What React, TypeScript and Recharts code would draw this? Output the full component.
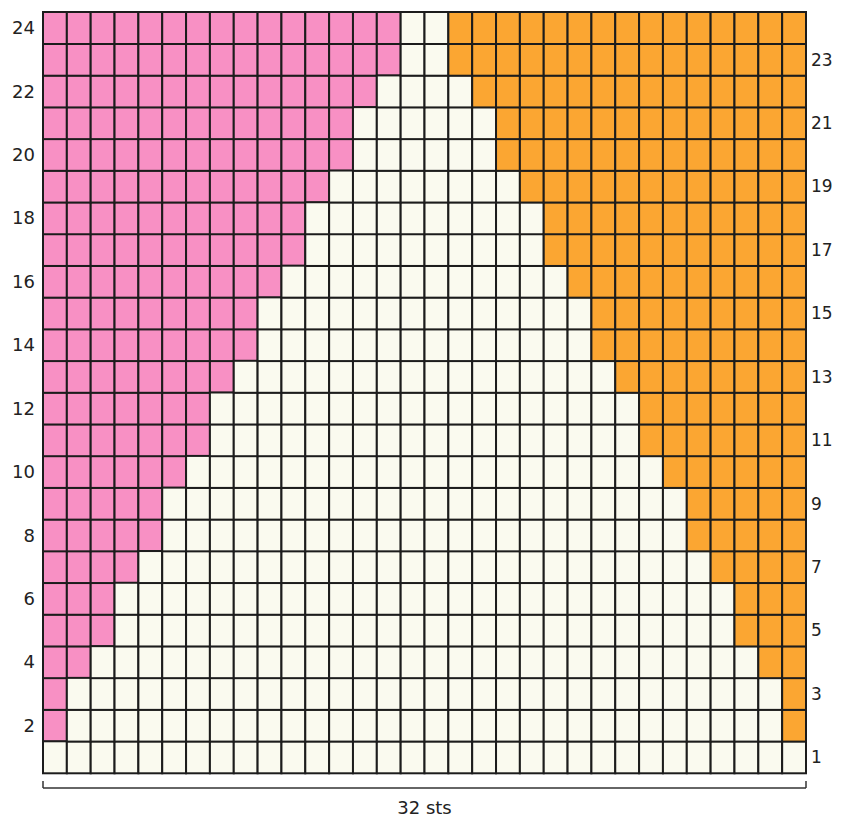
import { BarChart, Bar, XAxis, YAxis, Label } from 'recharts';

// knitting chart: 24 rows x 32 sts, values are stitch counts per row (row 1 = bottom)
const rowNumbers = [1, 2, 3, 4, 5, 6, 7, 8, 9, 10, 11, 12, 13, 14, 15, 16, 17, 18, 19, 20, 21, 22, 23, 24];
const pinkStitches = [0, 1, 1, 2, 3, 3, 4, 5, 5, 6, 7, 7, 8, 9, 9, 10, 11, 11, 12, 13, 13, 14, 15, 15];
const orangeStitches = [0, 1, 1, 2, 3, 3, 4, 5, 5, 6, 7, 7, 8, 9, 9, 10, 11, 11, 12, 13, 13, 14, 15, 15];
const totalStitches = 32;
const stitchTicks = [0, 32];
const widthLabel = '32 sts';

const PINK = '#f890c4';
const ORANGE = '#fba632';
const CREAM = '#fafaef';
const GRID = '#1c1c1c';

const data = rowNumbers.map((row, i) => ({
  row,
  pink: pinkStitches[i],
  cream: totalStitches - pinkStitches[i] - orangeStitches[i],
  orange: orangeStitches[i],
}));

// draws one bar segment as a run of separate stitch cells
const cellShape = (key: string, fill: string) => (props: any) => {
  const { x, y, width, height, payload } = props;
  const n = payload[key];
  if (!n) return <g />;
  const w = width / n;
  return (
    <g>
      {Array.from({ length: n }, (_, i) => (
        <rect key={i} x={x + i * w} y={y} width={w} height={height} fill={fill} stroke={GRID} strokeWidth={2} />
      ))}
    </g>
  );
};

const tickStyle = { fill: '#222', fontSize: 18, fontFamily: 'DejaVu Sans' };
const rightTickStyle = { ...tickStyle, fontSize: 17 };

export default function App() {
  return (
    // cancel the body margin so the chart sits at the page's corner
    <div style={{ margin: -8, width: 841, height: 825, overflow: 'hidden' }}>
      <BarChart
        width={841}
        height={825}
        data={data}
        layout="vertical"
        margin={{ top: 12, right: 0, bottom: 0, left: 0 }}
        barCategoryGap={0}
        barGap={0}
      >
        {/* spacer axis for the cells, then the "32 sts" bracket below it */}
        <XAxis xAxisId="grid" type="number" domain={[0, totalStitches]} height={15} tick={false} axisLine={false} tickLine={false} />
        <XAxis
          xAxisId="ruler"
          type="number"
          domain={[0, totalStitches]}
          allowDataOverflow
          ticks={stitchTicks}
          height={37}
          tickSize={-7}
          tickFormatter={() => ''}
          stroke="#333"
          strokeWidth={1.5}
        >
          <Label value={widthLabel} position="insideBottom" offset={11} style={tickStyle} />
        </XAxis>
        <YAxis
          yAxisId="left"
          type="category"
          dataKey="row"
          reversed
          width={43}
          interval={0}
          axisLine={false}
          tickLine={false}
          tick={tickStyle}
          tickFormatter={(v: number) => (v % 2 === 0 ? String(v) : '')}
        />
        <YAxis
          yAxisId="right"
          orientation="right"
          type="category"
          dataKey="row"
          reversed
          width={35}
          interval={0}
          axisLine={false}
          tickLine={false}
          tickSize={5}
          tickMargin={0}
          tick={rightTickStyle}
          tickFormatter={(v: number) => (v % 2 === 1 ? String(v) : '')}
        />
        <Bar dataKey="pink" stackId="s" xAxisId="grid" yAxisId="left" fill={PINK} shape={cellShape('pink', PINK)} isAnimationActive={false} />
        <Bar dataKey="cream" stackId="s" xAxisId="grid" yAxisId="left" fill={CREAM} shape={cellShape('cream', CREAM)} isAnimationActive={false} />
        <Bar dataKey="orange" stackId="s" xAxisId="grid" yAxisId="left" fill={ORANGE} shape={cellShape('orange', ORANGE)} isAnimationActive={false} />
      </BarChart>
    </div>
  );
}
